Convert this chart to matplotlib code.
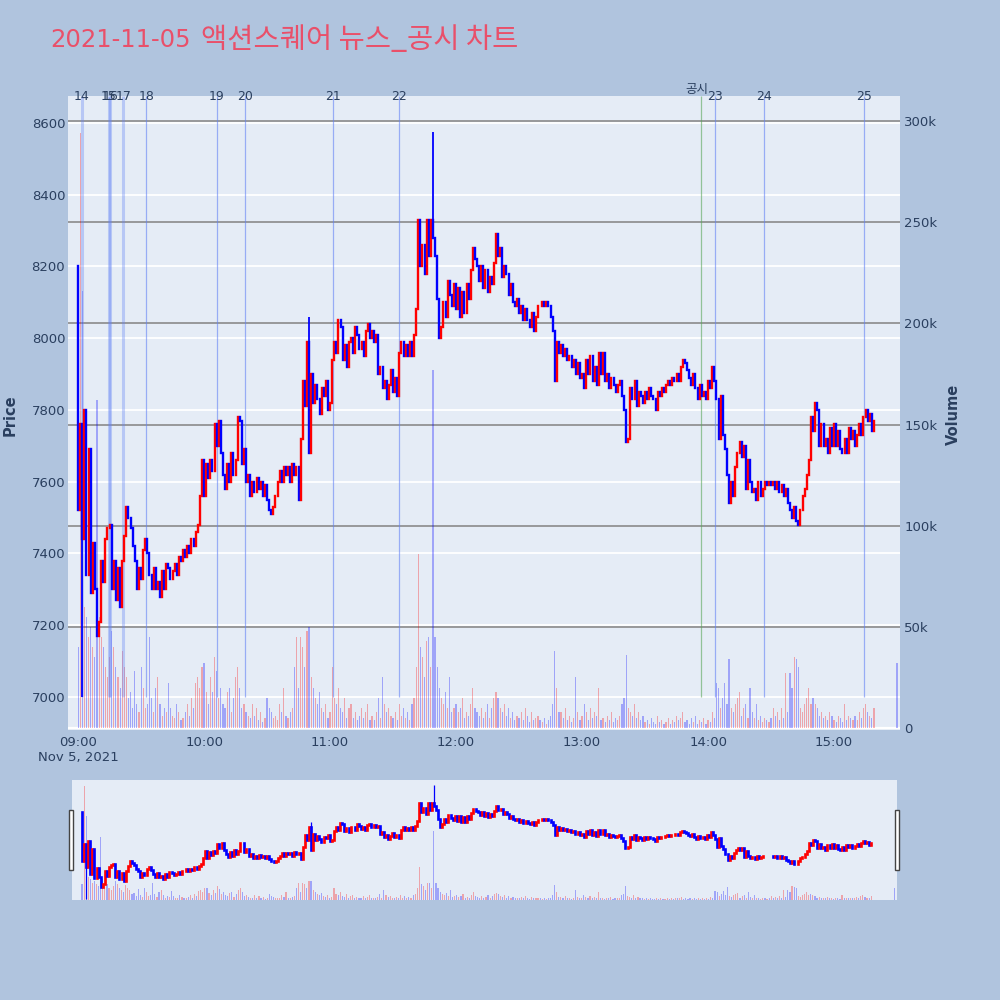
import numpy as np
import matplotlib
matplotlib.use("Agg")
import matplotlib.pyplot as plt
from matplotlib.transforms import blended_transform_factory
from matplotlib.patches import Rectangle

# ---------------- data ----------------
title = "2021-11-05 액션스퀘어 뉴스_공시 차트"
start_open = 8200  # first minute open (09:00)

# 1-minute closes, 09:00 .. 15:19
close = [
    7520, 7760, 7440, 7800, 7340, 7690, 7290, 7430, 7300, 7170,
    7210, 7380, 7320, 7440, 7470, 7480, 7300, 7380, 7270, 7360,
    7250, 7380, 7450, 7530, 7500, 7470, 7420, 7380, 7300, 7360,
    7330, 7410, 7440, 7400, 7340, 7300, 7360, 7300, 7320, 7280,
    7350, 7300, 7370, 7360, 7330, 7350, 7370, 7340, 7390, 7380,
    7410, 7390, 7420, 7400, 7440, 7420, 7460, 7480, 7560, 7660,
    7560, 7650, 7610, 7660, 7630, 7760, 7700, 7770, 7680, 7620,
    7580, 7650, 7600, 7680, 7620, 7660, 7780, 7770, 7650, 7690,
    7600, 7620, 7560, 7600, 7570, 7610, 7580, 7600, 7560, 7590,
    7550, 7520, 7510, 7530, 7560, 7600, 7630, 7600, 7640, 7620,
    7640, 7600, 7650, 7620, 7640, 7550, 7720, 7880, 7810, 7990,
    7680, 7900, 7820, 7870, 7830, 7790, 7860, 7840, 7880, 7800,
    7820, 7940, 7990, 7960, 8050, 8030, 7940, 7980, 7920, 7990,
    8000, 7960, 8030, 8010, 7970, 7990, 7950, 8020, 8040, 8000,
    8020, 7990, 8010, 7900, 7920, 7860, 7880, 7830, 7870, 7910,
    7850, 7890, 7840, 7960, 7990, 7950, 7980, 7950, 7990, 7950,
    8010, 8080, 8330, 8200, 8260, 8180, 8330, 8230, 8330, 8280,
    8230, 8110, 8000, 8030, 8100, 8060, 8160, 8120, 8090, 8150,
    8080, 8140, 8060, 8130, 8070, 8150, 8110, 8190, 8250, 8220,
    8200, 8160, 8200, 8140, 8190, 8130, 8170, 8150, 8210, 8290,
    8230, 8250, 8170, 8200, 8180, 8120, 8150, 8100, 8090, 8110,
    8070, 8090, 8050, 8080, 8050, 8030, 8070, 8020, 8060, 8090,
    8090, 8100, 8090, 8100, 8090, 8060, 8020, 7880, 7990, 7960,
    7980, 7950, 7970, 7940, 7950, 7920, 7940, 7900, 7930, 7890,
    7900, 7860, 7940, 7900, 7950, 7880, 7920, 7870, 7960, 7900,
    7960, 7880, 7900, 7860, 7890, 7870, 7850, 7870, 7880, 7840,
    7800, 7710, 7720, 7860, 7830, 7880, 7810, 7850, 7840, 7820,
    7850, 7830, 7860, 7840, 7830, 7800, 7850, 7840, 7860, 7850,
    7870, 7880, 7870, 7890, 7880, 7900, 7880, 7920, 7940, 7930,
    7910, 7890, 7870, 7900, 7860, 7830, 7870, 7840, 7850, 7830,
    7880, 7860, 7920, 7880, 7830, 7720, 7840, 7730, 7690, 7620,
    7540, 7600, 7560, 7640, 7680, 7710, 7670, 7700, 7580, 7660,
    7600, 7570, 7580, 7550, 7600, 7560, 7580, 7600, 7590, 7600,
    7590, 7600, 7580, 7600, 7570, 7590, 7560, 7580, 7540, 7520,
    7500, 7530, 7490, 7480, 7520, 7560, 7580, 7620, 7660, 7780,
    7740, 7820, 7800, 7700, 7760, 7700, 7720, 7680, 7750, 7700,
    7760, 7700, 7740, 7690, 7680, 7720, 7680, 7750, 7720, 7740,
    7700, 7730, 7760, 7730, 7780, 7800, 7770, 7790, 7740, 7770,
]

# 1-minute volumes (thousands of shares)
volume_k = [
    40, 294, 216, 60, 55, 45, 50, 40, 35, 162,
    55, 45, 40, 30, 25, 35, 48, 40, 30, 25,
    20, 38, 30, 25, 15, 18, 10, 28, 12, 8,
    30, 20, 10, 12, 45, 15, 8, 20, 25, 12,
    6, 10, 8, 22, 10, 6, 5, 12, 8, 4,
    5, 8, 12, 6, 15, 10, 22, 25, 20, 30,
    32, 18, 12, 25, 18, 35, 28, 15, 20, 12,
    10, 18, 20, 8, 15, 25, 30, 20, 10, 12,
    8, 6, 5, 12, 6, 10, 4, 8, 3, 5,
    15, 10, 8, 5, 6, 4, 12, 8, 20, 6,
    5, 8, 10, 30, 45, 20, 45, 40, 30, 48,
    50, 25, 20, 15, 12, 18, 10, 8, 12, 5,
    8, 30, 15, 12, 20, 10, 8, 15, 5, 10,
    12, 5, 8, 4, 6, 10, 5, 8, 12, 4,
    6, 4, 8, 15, 5, 25, 12, 8, 10, 6,
    5, 8, 4, 12, 6, 10, 5, 8, 4, 12,
    15, 30, 86, 40, 35, 25, 43, 45, 30, 177,
    45, 30, 20, 15, 12, 18, 10, 25, 8, 10,
    12, 8, 10, 15, 5, 8, 6, 12, 20, 10,
    8, 6, 10, 5, 8, 12, 5, 10, 15, 18,
    15, 10, 8, 12, 6, 10, 5, 8, 4, 6,
    5, 8, 4, 10, 6, 3, 8, 4, 5, 6,
    4, 3, 5, 2, 4, 6, 12, 38, 20, 8,
    8, 5, 10, 4, 6, 3, 5, 25, 8, 4,
    6, 12, 8, 4, 10, 5, 8, 6, 20, 4,
    5, 3, 6, 4, 8, 3, 5, 4, 6, 12,
    15, 36, 10, 8, 6, 12, 5, 8, 4, 6,
    3, 4, 2, 5, 3, 2, 6, 3, 4, 2,
    3, 5, 2, 4, 3, 6, 4, 5, 8, 3,
    4, 2, 5, 3, 6, 2, 4, 3, 5, 2,
    4, 3, 8, 5, 22, 20, 10, 15, 22, 12,
    34, 10, 8, 12, 15, 18, 6, 10, 12, 5,
    20, 8, 5, 12, 4, 6, 3, 5, 4, 3,
    5, 10, 6, 8, 4, 10, 5, 27, 8, 27,
    20, 35, 34, 30, 10, 8, 12, 15, 20, 12,
    15, 12, 10, 6, 8, 5, 6, 4, 8, 6,
    4, 3, 6, 5, 3, 12, 4, 6, 5, 4,
    6, 4, 8, 5, 10, 12, 8, 6, 5, 10,
]

# wick extremes that go beyond the candle bodies
wick_high = {110: 8060, 169: 8575}
wick_low = {2: 7000}

# closing auction (15:30)
auction_minute = 390
auction_price = 7775
auction_volume_k = 32

# news / disclosure markers (minutes after 09:00)
news_labels = ["14", "15", "16", "17", "18", "19", "20", "21", "22", "23", "24", "25"]
news_minutes = [1.8, 14.5, 15.3, 21.5, 32.5, 66.0, 79.6, 121.3, 153.0, 303.3, 326.8, 374.2]
disclosure_label = "공시"
disclosure_minute = 296.6

tick_minutes = [0, 60, 120, 180, 240, 300, 360]
tick_labels = ["09:00\nNov 5, 2021", "10:00", "11:00", "12:00", "13:00", "14:00", "15:00"]
price_ticks = [7000, 7200, 7400, 7600, 7800, 8000, 8200, 8400, 8600]
volume_ticks = [0, 50000, 100000, 150000, 200000, 250000, 300000]
volume_tick_labels = ["0", "50k", "100k", "150k", "200k", "250k", "300k"]

# ---------------- derived ----------------
c = np.array(close + [auction_price], dtype=float)
o = np.array([start_open] + close[:-1] + [auction_price], dtype=float)
x = np.array(list(range(len(close))) + [auction_minute], dtype=float)
vol = np.array(volume_k + [auction_volume_k], dtype=float) * 1000
hi = np.maximum(o, c)
lo = np.minimum(o, c)
for k, v in wick_high.items():
    hi[k] = v
for k, v in wick_low.items():
    lo[k] = v
up = c > o
candle_col = np.where(up, "#FF0000", "#0000FF")
vol_col = [(1, 0, 0, 0.3) if u else (0, 0, 1, 0.3) for u in up]

# ---------------- style ----------------
PAPER = "#B0C4DE"
PLOT = "#E5ECF6"
FONTC = "#2a3f5f"
TITLEC = "#E9506A"
plt.rcParams["font.family"] = ["DejaVu Sans", "Noto Sans CJK KR"]

W = H = 1000.0
fig = plt.figure(figsize=(10, 10), dpi=100, facecolor=PAPER)

def rect(l, t, r, b):
    return [l / W, 1 - b / H, (r - l) / W, (b - t) / H]

XLIM = (-4.8, 391.4)

# main: volume axes (bottom layer)
axv = fig.add_axes(rect(68, 96, 900, 730), facecolor=PLOT)
axp = fig.add_axes(rect(68, 96, 900, 730), sharex=axv)
axp.set_zorder(axv.get_zorder() + 1)
axp.patch.set_visible(False)

for a in (axv, axp):
    for s in a.spines.values():
        s.set_visible(False)

axv.set_xlim(*XLIM)
axv.set_ylim(-1000, 312400)
axp.set_ylim(6908, 8675)

# volume gridlines (gray) and zero line (white)
for v in volume_ticks[1:]:
    axv.axhline(v, color="#8a8a8a", lw=1.2, zorder=1)
axv.axhline(0, color="white", lw=1.6, zorder=1)
# price gridlines (white)
for p in price_ticks:
    axv.plot([0, 1], [p, p], color="white", lw=1.3, zorder=0.9,
             transform=blended_transform_factory(axv.transAxes, axp.transData))

axv.bar(x, vol, width=0.55, color=vol_col, linewidth=0, zorder=2)

# vertical marker lines
axp.vlines(news_minutes[:4], 7000, 8675, colors=[(0.39, 0.51, 0.96, 0.35)], lw=2.2, zorder=1)
axp.vlines(news_minutes[4:], 7000, 8675, colors=[(0.39, 0.51, 0.96, 0.6)], lw=0.9, zorder=1)
axp.vlines([disclosure_minute], 7000, 8675, colors=[(0.35, 0.65, 0.35, 0.6)], lw=0.9, zorder=1)

# candles
axp.vlines(x, lo, hi, colors=candle_col, lw=1.3, zorder=3)
axp.vlines(x, np.minimum(o, c), np.maximum(o, c), colors=candle_col, lw=1.7,
           capstyle="projecting", zorder=3)

# ticks
axp.set_yticks(price_ticks)
axp.set_yticklabels([str(p) for p in price_ticks])
axp.tick_params(axis="y", length=0, pad=2, labelsize=9.5, labelcolor=FONTC, left=False)
axp.tick_params(axis="x", labelbottom=False, length=0)
axv.yaxis.tick_right()
axv.set_yticks(volume_ticks)
axv.set_yticklabels(volume_tick_labels)
axv.tick_params(axis="y", length=0, pad=3, labelsize=9.5, labelcolor=FONTC)
axv.set_xticks(tick_minutes)
axv.set_xticklabels(tick_labels)
axv.tick_params(axis="x", length=0, pad=4.5, labelsize=9.5, labelcolor=FONTC)
for lab in axv.get_xticklabels():
    lab.set_linespacing(1.15)
    lab.set_verticalalignment("top")

# marker labels
tr = blended_transform_factory(axp.transData, fig.transFigure)
for lab, m in zip(news_labels, news_minutes):
    axp.text(m, 1 - 97 / H, lab, transform=tr, ha="center", va="center",
             fontsize=9, color=FONTC, clip_on=False, zorder=5)
axp.text(disclosure_minute - 2, 1 - 89 / H, disclosure_label, transform=tr, ha="center",
         va="center", fontsize=9, color=FONTC, family=["Noto Sans CJK KR"],
         clip_on=False, zorder=5)

# axis titles and title
fig.text(10 / W, 1 - 415 / H, "Price", rotation=90, ha="center", va="center",
         fontsize=10.5, fontweight="bold", color=FONTC)
fig.text(953 / W, 1 - 414 / H, "Volume", rotation=90, ha="center", va="center",
         fontsize=10.5, fontweight="bold", color=FONTC)
title_date, title_rest = title.split(" ", 1)
fig.text(50 / W, 1 - 40 / H, title_date, ha="left", va="center", fontsize=17.5,
         color=TITLEC, family=["DejaVu Sans"])
fig.text(201 / W, 1 - 40 / H, title_rest, ha="left", va="center", fontsize=20.5,
         color=TITLEC, family=["Noto Sans CJK KR", "DejaVu Sans"])

# ---------------- range slider ----------------
asv = fig.add_axes(rect(72, 780, 897, 900), facecolor=PLOT)
asp = fig.add_axes(rect(72, 780, 897, 900), sharex=asv)
asp.set_zorder(asv.get_zorder() + 1)
asp.patch.set_visible(False)
for a in (asv, asp):
    for s in a.spines.values():
        s.set_visible(False)
    a.set_xticks([])
    a.set_yticks([])
asv.set_xlim(*XLIM)
asv.set_ylim(0, 309000)
asp.set_ylim(6986, 8644)
asv.bar(x, vol, width=0.55, color=vol_col, linewidth=0)
asp.vlines(x, lo, hi, colors=candle_col, lw=0.9)
asp.vlines(x, np.minimum(o, c), np.maximum(o, c), colors=candle_col, lw=1.9,
           capstyle="projecting")

for hx in (69, 895):
    fig.patches.append(Rectangle((hx / W, 1 - 870 / H), 4 / W, 60 / H,
                                 transform=fig.transFigure, facecolor="white",
                                 edgecolor="#444444", lw=1.0, zorder=10))

fig.savefig("out.png", dpi=100, facecolor=PAPER)
